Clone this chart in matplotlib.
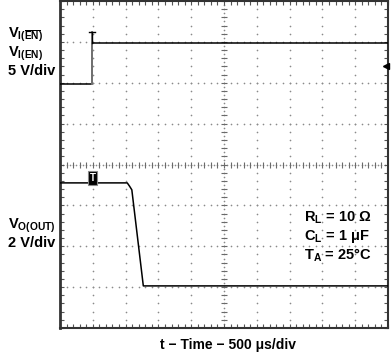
import numpy as np
import matplotlib
matplotlib.use('Agg')
from matplotlib import pyplot as plt

plt.rcParams['font.family'] = ['Liberation Sans Narrow', 'Liberation Sans', 'DejaVu Sans']
plt.rcParams['font.weight'] = 'bold'
plt.rcParams['mathtext.fontset'] = 'custom'
plt.rcParams['mathtext.rm'] = 'Liberation Sans Narrow:bold'
plt.rcParams['mathtext.it'] = 'Liberation Sans Narrow:bold'
plt.rcParams['mathtext.bf'] = 'Liberation Sans Narrow:bold'

# traces in screen divisions (x: 0..10 div, y: 0..8 div from bottom)
en_t = [0, 0.985, 0.985, 10]
en_v = [5.97, 5.97, 6.98, 6.98]
en_peak = 7.24

out_t = [0, 2.05, 2.12, 2.19, 2.54, 10]
out_v = [3.55, 3.55, 3.47, 3.38, 1.03, 1.03]

trig_t, trig_v = 0.99, 3.67
level_v = 6.4

W, H = 391, 352
fig = plt.figure(figsize=(W / 100, H / 100), dpi=100)
ax = fig.add_axes([60 / W, 1 - 328 / H, 328 / W, 327 / H])
ax.set_xlim(0, 10)
ax.set_ylim(0, 8)

# graticule
dots_x = np.arange(0, 10.01, 0.2)
dots_y = np.arange(0, 8.01, 0.2)
for gy in [1, 2, 3, 5, 6, 7]:
    ax.plot(dots_x, np.full_like(dots_x, gy), ls='none', marker='o', ms=1.2,
            mec='none', mfc='#8a8a8a', zorder=1)
for gx in [1, 2, 3, 4, 6, 7, 8, 9]:
    ax.plot(np.full_like(dots_y, gx), dots_y, ls='none', marker='o', ms=1.2,
            mec='none', mfc='#8a8a8a', zorder=1)
# center cross with ticks
fine_x = np.arange(0, 10.01, 0.1)
fine_y = np.arange(0, 8.01, 0.1)
ax.plot(fine_x, np.full_like(fine_x, 4), ls='none', marker='o', ms=1.2,
        mec='none', mfc='#8a8a8a', zorder=1)
ax.plot(fine_x[::2], np.full_like(fine_x[::2], 4), ls='none', marker='|', ms=4,
        mew=0.8, color='#6a6a6a', zorder=1)
ax.plot(np.full_like(fine_y, 5), fine_y, ls='none', marker='o', ms=1.2,
        mec='none', mfc='#8a8a8a', zorder=1)
ax.plot(np.full_like(fine_y[::2], 5), fine_y[::2], ls='none', marker='_', ms=4,
        mew=0.8, color='#6a6a6a', zorder=1)

# traces
ax.plot(en_t, en_v, color='black', lw=1.1, zorder=3)
ax.plot([en_t[1], en_t[1]], [en_v[1], en_peak], color='#777777', lw=1.3, zorder=3)
ax.plot([en_t[1] - 0.09, en_t[1] + 0.09], [en_peak, en_peak], color='black', lw=1.0, zorder=4)
ax.plot([en_t[1], en_t[1]], [en_v[2], en_peak], color='black', lw=1.0, zorder=4)
ax.plot(out_t, out_v, color='black', lw=1.1, zorder=3)

# trigger marker and level arrow
ax.text(trig_t, trig_v, 'T', color='white', fontsize=7, fontweight='bold',
        ha='center', va='center', zorder=5,
        bbox=dict(boxstyle='square,pad=0.2', fc='black', ec='#888888', lw=0.8))
ax.plot([9.94], [level_v], marker='<', ms=5, color='black', zorder=5, clip_on=False)

# frame and edge ticks
for side in ['top', 'bottom', 'left', 'right']:
    ax.spines[side].set_color('#333333')
    ax.spines[side].set_linewidth(1.5)
ax.spines['left'].set_linewidth(2)
ax.set_xticks(np.arange(0, 11, 1))
ax.set_yticks(np.arange(0, 9, 1))
ax.set_xticks(np.arange(0, 10.01, 0.2), minor=True)
ax.set_yticks(np.arange(0, 8.01, 0.2), minor=True)
ax.tick_params(which='both', direction='in', length=3, width=0.8, color='#555555',
               top=True, right=True, labelbottom=False, labelleft=False)

# labels
fs = 10.5
fig.text(8 / W, 1 - 37 / H, r'V$_{\mathregular{I(\overline{EN})}}$', fontsize=fs, fontweight='bold',
         ha='left', va='baseline')
fig.text(8 / W, 1 - 56 / H, r'V$_{\mathregular{I(EN)}}$', fontsize=fs, fontweight='bold',
         ha='left', va='baseline')
fig.text(8 / W, 1 - 75 / H, '5 V/div', fontsize=fs, fontweight='bold',
         ha='left', va='baseline')
fig.text(8 / W, 1 - 228 / H, r'V$_{\mathregular{O(OUT)}}$', fontsize=fs, fontweight='bold',
         ha='left', va='baseline')
fig.text(8 / W, 1 - 247 / H, '2 V/div', fontsize=fs, fontweight='bold',
         ha='left', va='baseline')

fig.text(304 / W, 1 - 221 / H, r'R$_{\mathregular{L}}$ = 10 Ω', fontsize=fs, fontweight='bold',
         ha='left', va='baseline')
fig.text(304 / W, 1 - 240 / H, r'C$_{\mathregular{L}}$ = 1 μF', fontsize=fs, fontweight='bold',
         ha='left', va='baseline')
fig.text(304 / W, 1 - 259 / H, r'T$_{\mathregular{A}}$ = 25°C', fontsize=fs, fontweight='bold',
         ha='left', va='baseline')

fig.text(228 / W, 1 - 349 / H, 't − Time − 500 μs/div', fontsize=10, fontweight='bold',
         ha='center', va='baseline')

fig.savefig('out.png', dpi=100)
